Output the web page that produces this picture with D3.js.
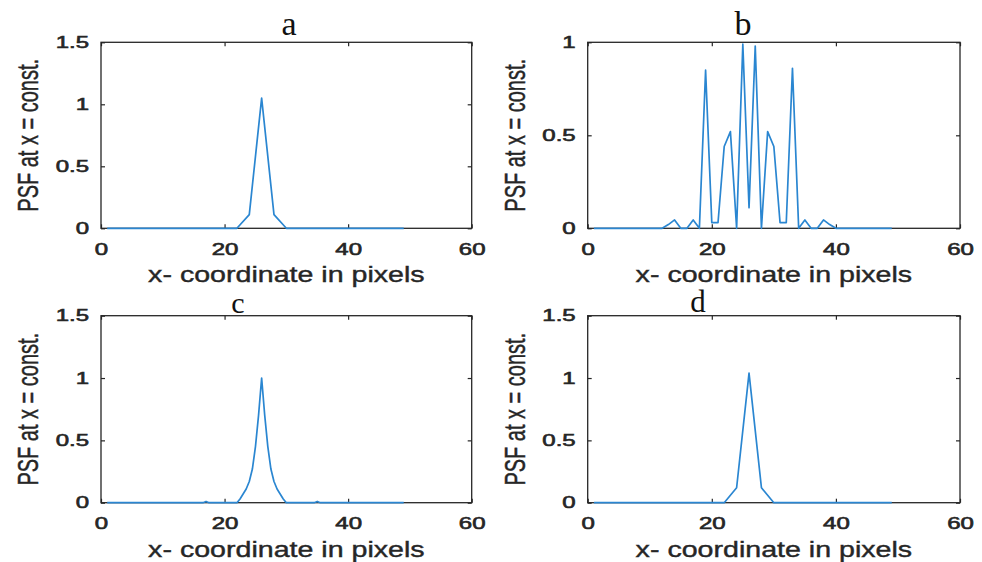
<!DOCTYPE html>
<html>
<head>
<meta charset="utf-8">
<script src="https://cdn.jsdelivr.net/npm/d3@7"></script>
<style>
  body { margin: 0; background: #fff; }
  text { font-family: "Liberation Sans", Arial, sans-serif; fill: #262626; }
</style>
</head>
<body>
<div id="chart"></div>
<script>
// PSF profiles (x in pixels, value)
var xA = [1, 22, 24, 26, 28, 30, 49];
var psfA = [0, 0, 0.11, 1.05, 0.11, 0, 0];

var xB = [1, 12, 13, 14, 15, 16, 17, 18, 19, 20, 21, 22, 23, 24, 25, 26, 27, 28, 29, 30,
  31, 32, 33, 34, 35, 36, 37, 38, 39, 40, 49];
var psfB = [0, 0, 0.02, 0.045, 0, 0, 0.045, 0, 0.85, 0.03, 0.03, 0.44, 0.52, 0, 0.99, 0.11, 0.98, 0, 0.52, 0.44,
  0.03, 0.03, 0.86, 0, 0.045, 0, 0, 0.045, 0.02, 0, 0];

var xC = [1, 16.5, 17, 17.5, 22, 22.5, 23, 23.5, 24, 24.5, 25, 25.5, 26, 26.5, 27, 27.5, 28, 28.5, 29, 29.5, 30,
  34.5, 35, 35.5, 49];
var psfC = [0, 0, 0.01, 0, 0, 0.03, 0.07, 0.11, 0.17, 0.27, 0.45, 0.7, 1.0, 0.7, 0.45, 0.27, 0.17, 0.11, 0.07, 0.03, 0,
  0, 0.01, 0, 0];

var xD = [1, 22, 24, 26, 28, 30, 49];
var psfD = [0, 0, 0.12, 1.04, 0.12, 0, 0];

var xTicks = [0, 20, 40, 60];
var yTicksTall = [0, 0.5, 1, 1.5];
var yTicksB = [0, 0.5, 1];
var xLabel = "x- coordinate in pixels";
var yLabel = "PSF at x = const.";

var width = 982;
var height = 562;
var ink = "#262626";

var panels = [
  { xs: xA, ys: psfA, yMax: 1.5, yTicks: yTicksTall, title: "a", left: 101, right: 471.7, top: 42.3, bottom: 228.3, tx: 289, ty: 35, ts: 34, lab: 53.7 },
  { xs: xB, ys: psfB, yMax: 1, yTicks: yTicksB, title: "b", left: 587.7, right: 960, top: 42.3, bottom: 228.3, tx: 743, ty: 35, ts: 34, lab: 53.7 },
  { xs: xC, ys: psfC, yMax: 1.5, yTicks: yTicksTall, title: "c", left: 101, right: 471.7, top: 315.7, bottom: 502.7, tx: 238, ty: 313, ts: 30, lab: 54.7 },
  { xs: xD, ys: psfD, yMax: 1.5, yTicks: yTicksTall, title: "d", left: 587.7, right: 960, top: 315.7, bottom: 502.7, tx: 698, ty: 312, ts: 31, lab: 54.7 }
];

var svg = d3.select('#chart').append('svg')
  .attr('width', width).attr('height', height);

svg.append('rect').attr('width', width).attr('height', height).attr('fill', 'white');

panels.forEach(function(p) {
  var x = d3.scaleLinear().domain([0, 60]).range([p.left, p.right]);
  var y = d3.scaleLinear().domain([0, p.yMax]).range([p.bottom, p.top]);
  var g = svg.append('g');

  // bottom axis with labels, ticks pointing inward
  var bottom = g.append('g').attr('transform', 'translate(0,' + p.bottom + ')')
    .call(d3.axisBottom(x).tickValues(xTicks).tickSizeInner(-4).tickSizeOuter(0));
  bottom.selectAll('text')
    .attr('y', 0).attr('dy', null)
    .attr('transform', 'translate(0,26.5) scale(1.5,1)')
    .style('font-size', '16px');

  g.append('g').attr('transform', 'translate(0,' + p.top + ')')
    .call(d3.axisTop(x).tickValues(xTicks).tickSizeInner(-4).tickSizeOuter(0).tickFormat(''));

  var left = g.append('g').attr('transform', 'translate(' + p.left + ',0)')
    .call(d3.axisLeft(y).tickValues(p.yTicks).tickSizeInner(-4).tickSizeOuter(0)
      .tickFormat(function(d) { return String(d); }));
  left.selectAll('text')
    .attr('x', 0)
    .attr('transform', 'translate(-12,0) scale(1.5,1)')
    .style('font-size', '16px');

  g.append('g').attr('transform', 'translate(' + p.right + ',0)')
    .call(d3.axisRight(y).tickValues(p.yTicks).tickSizeInner(-4).tickSizeOuter(0).tickFormat(''));

  g.selectAll('.domain').remove();
  g.selectAll('.tick line').attr('stroke', ink).attr('stroke-width', 1.2);
  g.selectAll('.tick text')
    .attr('fill', ink)
    .attr('stroke', ink).attr('stroke-width', 0.6);

  // box
  g.append('rect')
    .attr('x', p.left).attr('y', p.top)
    .attr('width', p.right - p.left).attr('height', p.bottom - p.top)
    .attr('fill', 'none').attr('stroke', ink).attr('stroke-width', 1.3);

  // data line
  var line = d3.line()
    .x(function(d, i) { return x(p.xs[i]); })
    .y(function(d) { return y(d); });
  g.append('path')
    .attr('d', line(p.ys))
    .attr('fill', 'none')
    .attr('stroke', '#2a86d1')
    .attr('stroke-width', 1.7)
    .attr('stroke-linejoin', 'round');

  // axis labels
  g.append('text')
    .attr('text-anchor', 'middle')
    .attr('transform', 'translate(' + ((p.left + p.right) / 2) + ',' + (p.bottom + p.lab) + ') scale(1.3,1)')
    .style('font-size', '22px')
    .attr('stroke', ink).attr('stroke-width', 0.4)
    .text(xLabel);

  g.append('text')
    .attr('text-anchor', 'middle')
    .attr('transform', 'translate(' + (p.left - 63) + ',' + ((p.top + p.bottom) / 2) + ') rotate(-90) scale(1,1.45)')
    .style('font-size', '20px')
    .attr('stroke', ink).attr('stroke-width', 0.3)
    .text(yLabel);

  // panel letter
  g.append('text')
    .attr('x', p.tx).attr('y', p.ty)
    .attr('text-anchor', 'middle')
    .style('font-family', '"Liberation Serif", "Times New Roman", serif')
    .style('font-size', p.ts + 'px')
    .style('fill', '#111')
    .text(p.title);
});
</script>
</body>
</html>
